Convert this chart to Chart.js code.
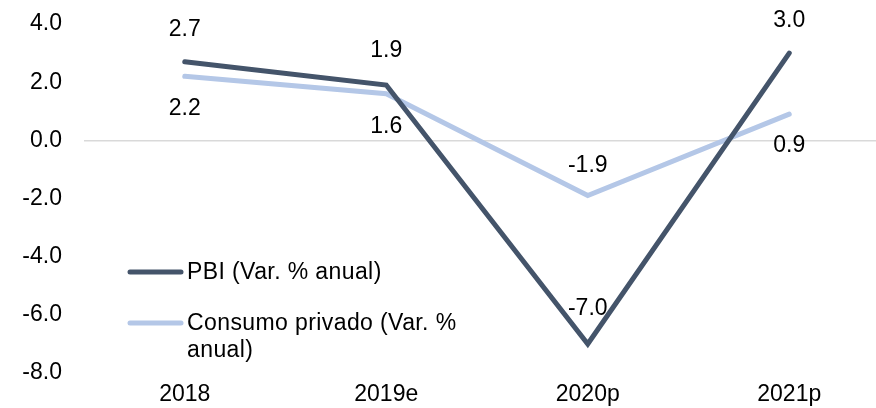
<!DOCTYPE html>
<html>
<head>
<meta charset="utf-8">
<script src="https://cdn.jsdelivr.net/npm/chart.js@4"></script>
<style>
  html, body { margin: 0; padding: 0; overflow: hidden; background: #fff; }
  #wrap { width: 900px; height: 408px; }
</style>
</head>
<body>
<div id="wrap"><canvas id="myChart" width="900" height="408"></canvas></div>
<script>
const years = ['2018', '2019e', '2020p', '2021p'];
const pbi = [2.7, 1.9, -7.0, 3.0];
const consumo = [2.2, 1.6, -1.9, 0.9];
const yTicks = [4, 2, 0, -2, -4, -6, -8];

// label offsets (px) above (-) or below (+) each point
const pbiLabelPos = [-32, -34, -35, -32];
const consumoLabelPos = [32, 33, -30, 31];

const FONT = '"Liberation Sans", Arial, sans-serif';
const FSIZE = 23;

const pointLabels = {
  id: 'pointLabels',
  afterDatasetsDraw(chart) {
    const ctx = chart.ctx;
    ctx.save();
    ctx.font = FSIZE + 'px ' + FONT;
    ctx.fillStyle = '#000';
    ctx.textAlign = 'center';
    ctx.textBaseline = 'middle';
    chart.data.datasets.forEach((ds, i) => {
      const meta = chart.getDatasetMeta(i);
      meta.data.forEach((pt, j) => {
        ctx.fillText(ds.data[j].toFixed(1), pt.x, pt.y + ds.labelPos[j]);
      });
    });
    ctx.restore();
  }
};

const innerLegend = {
  id: 'innerLegend',
  afterDraw(chart) {
    const ctx = chart.ctx;
    ctx.save();
    ctx.font = FSIZE + 'px ' + FONT;
    ctx.letterSpacing = '0.4px';
    ctx.fillStyle = '#000';
    ctx.textBaseline = 'middle';
    ctx.lineCap = 'round';
    ctx.lineWidth = 5;
    const rows = [
      { y: 272, lines: ['PBI (Var. % anual)'] },
      { y: 323, lines: ['Consumo privado (Var. %', 'anual)'] }
    ];
    chart.data.datasets.forEach((ds, i) => {
      const r = rows[i];
      ctx.strokeStyle = ds.borderColor;
      ctx.beginPath();
      ctx.moveTo(130, r.y);
      ctx.lineTo(181, r.y);
      ctx.stroke();
      r.lines.forEach((t, k) => ctx.fillText(t, 187, r.y + 1 + k * 27));
    });
    ctx.restore();
  }
};

new Chart(document.getElementById('myChart'), {
  type: 'line',
  data: {
    labels: years,
    datasets: [
      {
        label: 'PBI (Var. % anual)',
        data: pbi,
        labelPos: pbiLabelPos,
        borderColor: '#44546A',
        borderWidth: 5,
        pointRadius: 0,
        borderJoinStyle: 'miter',
        borderCapStyle: 'round',
        tension: 0,
      },
      {
        label: 'Consumo privado (Var. % anual)',
        data: consumo,
        labelPos: consumoLabelPos,
        borderColor: '#B4C7E7',
        borderWidth: 5,
        pointRadius: 0,
        borderJoinStyle: 'miter',
        borderCapStyle: 'round',
        tension: 0,
      },
    ],
  },
  options: {
    responsive: false,
    animation: false,
    layout: { padding: { top: 24, right: 10, left: 0, bottom: 0 } },
    plugins: {
      legend: { display: false },
      tooltip: { enabled: false },
    },
    scales: {
      x: {
        offset: true,
        grid: { display: false },
        border: { display: false },
        ticks: { color: '#000', font: { family: FONT, size: FSIZE }, padding: 0, maxRotation: 0 },
        afterFit: (s) => { s.height = 35; },
      },
      y: {
        min: -8,
        max: 4,
        afterBuildTicks: (s) => { s.ticks = yTicks.map(v => ({ value: v })); },
        grid: {
          drawTicks: false,
          lineWidth: 1.5,
          color: (c) => (c.tick && c.tick.value === 0 ? '#D9D9D9' : 'rgba(0,0,0,0)'),
        },
        border: { display: false },
        ticks: {
          color: '#000',
          font: { family: FONT, size: FSIZE },
          padding: 22,
          callback: (v) => Number(v).toFixed(1),
        },
        afterFit: (s) => {
          s.width = 84;
          s.paddingTop = 0;
          s.paddingBottom = 0;
        },
      },
    },
  },
  plugins: [pointLabels, innerLegend],
});
</script>
</body>
</html>
